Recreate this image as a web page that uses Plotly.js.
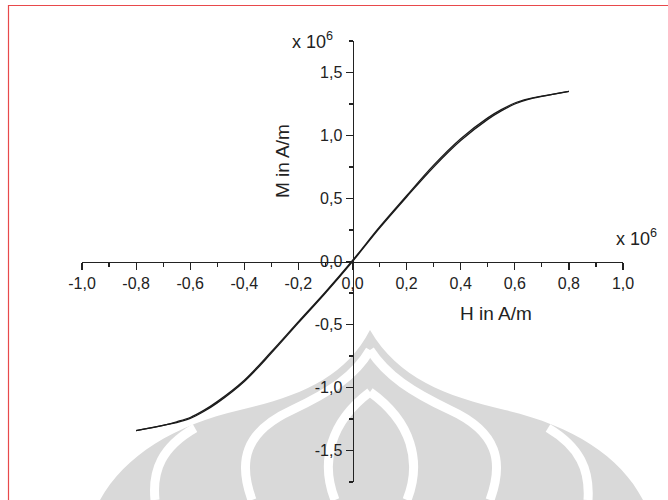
<!DOCTYPE html>
<html>
<head>
<meta charset="utf-8">
<script src="https://cdn.plot.ly/plotly-3.0.1.min.js"></script>
<style>html,body{margin:0;padding:0;background:#fff;}#chart{width:668px;height:500px;}</style>
</head>
<body>
<div id="chart"></div>
<script>
// ---- data (units of 10^6 A/m) ----
const H_ascending = [-0.8,-0.7,-0.65,-0.6,-0.55,-0.5,-0.4,-0.3,-0.2,-0.1,0,0.1,0.2,0.3,0.4,0.5,0.55,0.6,0.65,0.7,0.8];
const M_ascending = [-1.342,-1.30,-1.278,-1.245,-1.19,-1.122,-0.952,-0.727,-0.487,-0.25,0.0,0.265,0.512,0.75,0.96,1.128,1.195,1.25,1.286,1.31,1.35];
const H_descending = [0.8,0.7,0.65,0.6,0.55,0.5,0.4,0.3,0.2,0.1,0,-0.1,-0.2,-0.3,-0.4,-0.5,-0.55,-0.6,-0.65,-0.7,-0.8];
const M_descending = [1.35,1.312,1.29,1.258,1.205,1.14,0.975,0.765,0.522,0.274,0.008,-0.242,-0.478,-0.716,-0.942,-1.112,-1.182,-1.238,-1.272,-1.30,-1.342];
const xTickVals = [-1,-0.8,-0.6,-0.4,-0.2,0,0.2,0.4,0.6,0.8,1];
const xTickText = ["-1,0","-0,8","-0,6","-0,4","-0,2","0,0","0,2","0,4","0,6","0,8","1,0"];
const yTickVals = [-1.5,-1,-0.5,0,0.5,1,1.5];
const yTickText = ["-1,5","-1,0","-0,5","0,0","0,5","1,0","1,5"];
const xTitle = "H in A/m";
const yTitle = "M in A/m";
const scaleLabel = "x 10<sup>6</sup>";

// ---- layout geometry ----
const W = 668, Hh = 500;
const mL = 82, mR = 45, mT = 41, mB = 18;
const pw = W - mL - mR, ph = Hh - mT - mB;
const px = x => (x - mL) / pw;
const py = y => 1 - (y - mT) / ph;

// background watermark + frame (decoration)
const g = '#d9d9d9';
const svg = `<svg xmlns="http://www.w3.org/2000/svg" width="668" height="500" viewBox="0 0 668 500">
<path d="M100 500 C125 455 175 425 240 410 C300 396 345 378 370 330 C398 378 445 396 505 410 C570 425 620 455 643 500 Z" fill="${g}"/>
<g fill="none" stroke="#fff" stroke-width="9">
<path d="M155 500 C152 470 162 447 195 428"/>
<path d="M588 500 C590 470 580 447 548 428"/>
<path d="M252 500 C238 462 244 432 292 410 C330 392 355 376 370 350"/>
<path d="M490 500 C504 462 498 432 450 410 C412 392 387 376 370 350"/>
<path d="M335 500 C320 462 330 422 370 392"/>
<path d="M407 500 C422 462 412 422 370 392"/>
</g>
<path d="M8.5 500 V5.5 H668" fill="none" stroke="#e8494b" stroke-width="1.2"/>
</svg>`;
const svgURI = 'data:image/svg+xml;charset=utf-8,' + encodeURIComponent(svg);

const lineStyle = {color: '#1a1a1a', width: 1.3, shape: 'spline', smoothing: 1};
const traces = [
  {x: H_ascending, y: M_ascending, mode: 'lines', line: lineStyle, hoverinfo: 'skip'},
  {x: H_descending, y: M_descending, mode: 'lines', line: lineStyle, hoverinfo: 'skip'}
];

const font = {family: '"Liberation Sans", Arial, sans-serif', size: 16, color: '#222'};
const axisCommon = {
  showgrid: false, zeroline: false, showline: true, linecolor: '#222', linewidth: 1.3,
  ticks: 'outside', ticklen: 7, tickwidth: 1.2, tickcolor: '#222',
  tickmode: 'array', tickfont: font, anchor: 'free', position: 0.5,
  fixedrange: true
};

const layout = {
  width: W, height: Hh,
  margin: {l: mL, r: mR, t: mT, b: mB, pad: 0},
  paper_bgcolor: '#fff', plot_bgcolor: 'rgba(0,0,0,0)',
  showlegend: false,
  font: font,
  xaxis: Object.assign({}, axisCommon, {
    range: [-1, 1], tickvals: xTickVals, ticktext: xTickText,
    minor: {dtick: 0.1, tick0: 0, ticks: 'outside', ticklen: 4, tickwidth: 1.2, tickcolor: '#222', showgrid: false}
  }),
  yaxis: Object.assign({}, axisCommon, {
    range: [-1.75, 1.75], tickvals: yTickVals, ticktext: yTickText,
    minor: {dtick: 0.25, tick0: 0, ticks: 'outside', ticklen: 4, tickwidth: 1.2, tickcolor: '#222', showgrid: false}
  }),
  images: [{
    source: svgURI, xref: 'paper', yref: 'paper',
    x: px(0), y: py(0), sizex: W / pw, sizey: Hh / ph,
    xanchor: 'left', yanchor: 'top', sizing: 'stretch', layer: 'below'
  }],
  annotations: [
    {text: scaleLabel, xref: 'paper', yref: 'paper', x: px(312), y: py(40), showarrow: false,
     font: {family: font.family, size: 18, color: '#222'}, xanchor: 'center', yanchor: 'middle'},
    {text: scaleLabel, xref: 'paper', yref: 'paper', x: px(636), y: py(237), showarrow: false,
     font: {family: font.family, size: 18, color: '#222'}, xanchor: 'center', yanchor: 'middle'},
    {text: xTitle, xref: 'paper', yref: 'paper', x: px(496), y: py(313), showarrow: false,
     font: {family: font.family, size: 19, color: '#222'}, xanchor: 'center', yanchor: 'middle'},
    {text: yTitle, xref: 'paper', yref: 'paper', x: px(282), y: py(161), showarrow: false, textangle: -90,
     font: {family: font.family, size: 19, color: '#222'}, xanchor: 'center', yanchor: 'middle'}
  ]
};

Plotly.newPlot('chart', traces, layout, {displayModeBar: false, staticPlot: true});
</script>
</body>
</html>
